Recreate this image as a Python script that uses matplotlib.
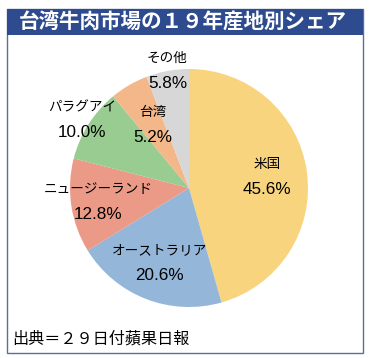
import numpy as np
import matplotlib
matplotlib.use('Agg')
import matplotlib.pyplot as plt
from matplotlib.patches import Rectangle
from matplotlib.transforms import offset_copy

plt.rcParams['font.family'] = ['Noto Sans CJK JP', 'DejaVu Sans']

# data
countries = ['米国', 'オーストラリア', 'ニュージーランド', 'パラグアイ', '台湾', 'その他']
shares = [45.6, 20.6, 12.8, 10.0, 5.2, 5.8]
colors = ['#F8D47F', '#94B6D8', '#EB9A88', '#98CC90', '#F3B789', '#D7D7D7']
# how far from centre each label sits (fraction of radius)
label_r = [0.66, 0.68, 0.77, 1.06, 0.61, 1.0]

W, H = 371, 358
fig = plt.figure(figsize=(W / 100, H / 100), dpi=100)
fig.patch.set_facecolor('white')

# outer frame
fig.patches.append(Rectangle((7 / W, 1 - 353 / H), 356 / W, 344 / H,
                             transform=fig.transFigure, fill=False,
                             edgecolor='#5B6F9C', linewidth=1.0))
# title bar
fig.patches.append(Rectangle((7 / W, 1 - 35 / H), 356 / W, 26 / H,
                             transform=fig.transFigure, facecolor='#2D4B8E',
                             edgecolor='none'))
fig.text(183 / W, 1 - 22 / H, '台湾牛肉市場の１９年産地別シェア', color='white',
         fontsize=14.8, fontweight='bold', ha='center', va='center')

# pie
cx, cy, r = 189, 188, 119
ax = fig.add_axes([(cx - r) / W, (H - cy - r) / H, 2 * r / W, 2 * r / H])
wedges, _ = ax.pie(shares, colors=colors, startangle=90, counterclock=False,
                   radius=1.0, wedgeprops=dict(linewidth=0))
ax.set_xlim(-1, 1)
ax.set_ylim(-1, 1)
ax.set_aspect('equal')
ax.axis('off')

top = offset_copy(ax.transData, fig=fig, y=9.5, units='points')
bot = offset_copy(ax.transData, fig=fig, y=-9, units='points')
for w, name, val, lr in zip(wedges, countries, shares, label_r):
    ang = np.deg2rad((w.theta1 + w.theta2) / 2)
    x, y = lr * np.cos(ang), lr * np.sin(ang)
    ax.text(x, y, name, transform=top, ha='center', va='center',
            fontsize=9.8, clip_on=False)
    ax.text(x, y, f'{val:.1f}%', transform=bot, ha='center', va='center',
            fontsize=12.3, family=['Liberation Sans', 'DejaVu Sans'],
            clip_on=False)

fig.text(12 / W, 1 - 339 / H, '出典＝２９日付蘋果日報', fontsize=11.6,
         ha='left', va='center')

fig.savefig('out.png', dpi=100)
